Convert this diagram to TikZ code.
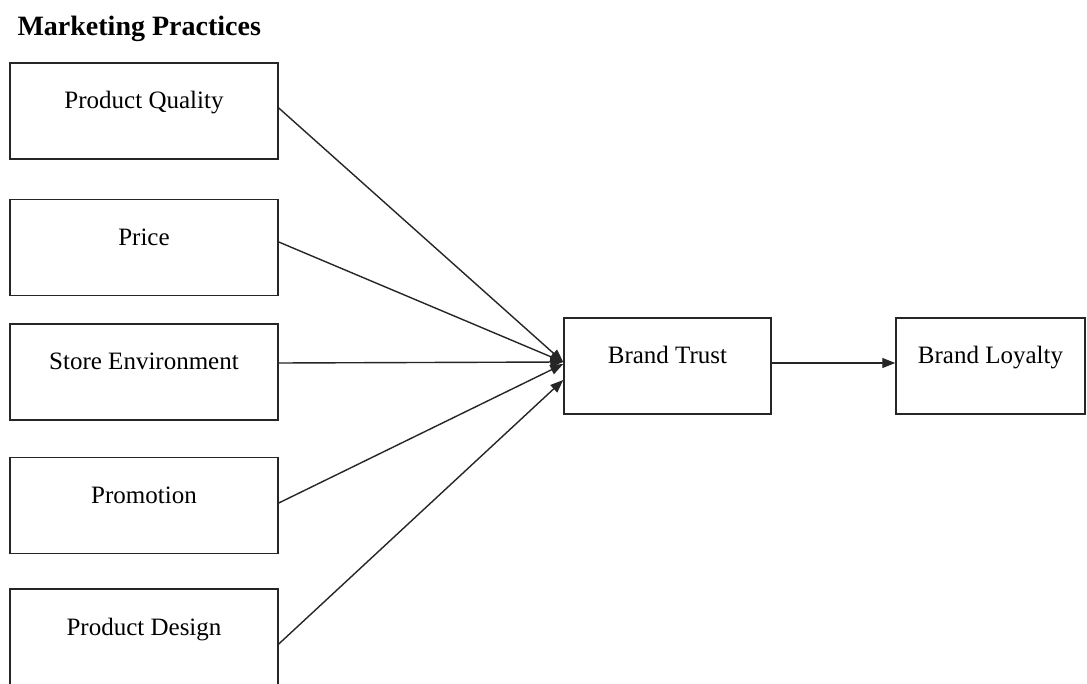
\documentclass[tikz,border=0pt]{standalone}
\usepackage{fontspec}
\setmainfont{Liberation Serif}
\usetikzlibrary{arrows.meta}
\begin{document}
\begin{tikzpicture}[x=1pt,y=-1pt,
  box/.style={draw=black!85, line width=1.5pt, minimum height=96pt, inner sep=0pt,
    text height=17pt, text depth=21pt, font=\fontsize{25}{30}\selectfont},
  leftbox/.style={box, minimum width=268pt},
  conn/.style={draw=black!85, line width=1.4pt, -{Triangle[length=13pt,width=10pt]}}]
\useasboundingbox[fill=white] (0,0) rectangle (1087,684);
\node[anchor=base west, font=\fontsize{28}{32}\selectfont\bfseries] (title) at (14,36) {Marketing Practices};
\node[leftbox] (pq) at (144,111) {Product Quality};
\node[leftbox] (pr) at (144,247.5) {Price};
\node[leftbox] (se) at (144,372) {Store Environment};
\node[leftbox] (pm) at (144,505.5) {Promotion};
\node[leftbox] (pd) at (144,637) {Product Design};
\node[box, minimum width=207pt] (bt) at (667.5,366) {Brand Trust};
\node[box, minimum width=189pt] (bl) at (990.5,366) {Brand Loyalty};
\draw[conn] ([yshift=3pt]pq.east) -- ([yshift=4pt]bt.west);
\draw[conn] ([yshift=5.5pt]pr.east) -- ([yshift=4pt]bt.west);
\draw[conn] ([yshift=9pt]se.east) -- ([yshift=4pt]bt.west);
\draw[conn] ([yshift=2.5pt]pm.east) -- ([yshift=2pt]bt.west);
\draw[conn] ([yshift=-7pt]pd.east) -- ([yshift=-14pt]bt.west);
\draw[conn] ([yshift=3pt]bt.east) -- ([yshift=3pt]bl.west);
\end{tikzpicture}
\end{document}
